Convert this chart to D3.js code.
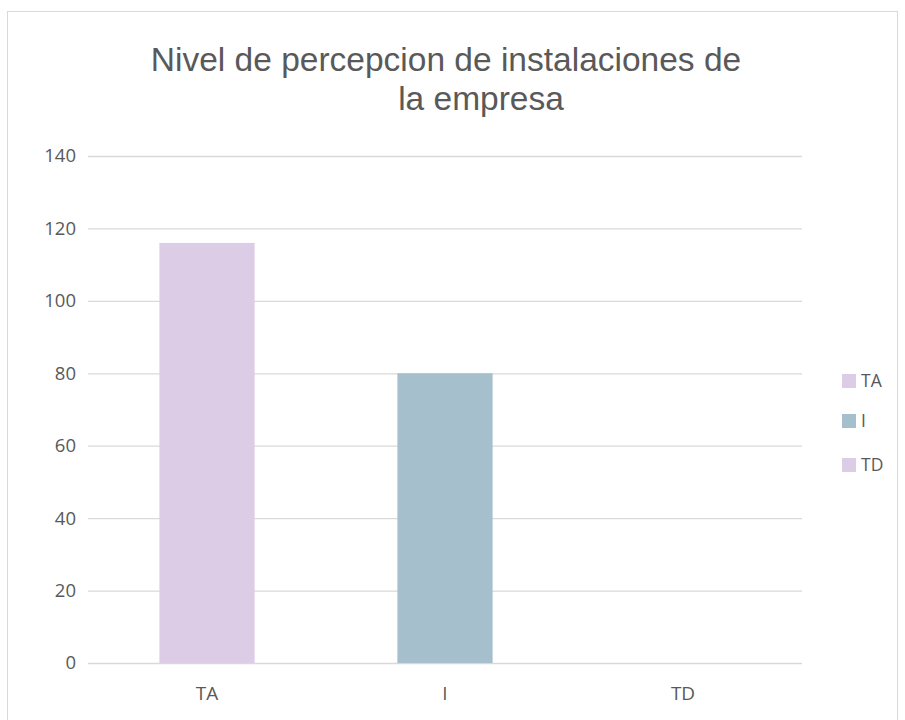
<!DOCTYPE html>
<html>
<head>
<meta charset="utf-8">
<script src="https://cdn.jsdelivr.net/npm/d3@7"></script>
<style>
  body { margin: 0; background: #fff; }
  text { font-family: "Open Sans", "Noto Sans", sans-serif; fill: #595959; }
  text.chart-title { font-family: "Liberation Sans", "Open Sans", sans-serif; }
</style>
</head>
<body>
<svg id="chart" width="905" height="720"></svg>
<script>
// Survey responses per perception level
const categories = ["TA", "I", "TD"];
const values = [116, 80, 0];
const barColors = ["#dccce6", "#a5bfcd", "#dccce6"];
const yTicks = [0, 20, 40, 60, 80, 100, 120, 140];
const titleLines = ["Nivel de percepcion de instalaciones de", "la empresa"];

const svg = d3.select("#chart");
const margin = { left: 88, right: 103, top: 156, bottom: 57 };
const W = 905, H = 720;

// chart frame
svg.append("rect")
  .attr("x", 7.5).attr("y", 11.5)
  .attr("width", 890).attr("height", 720)
  .attr("fill", "#fff").attr("stroke", "#d9d9d9").attr("stroke-width", 1);

const x = d3.scaleBand()
  .domain(categories)
  .range([margin.left, W - margin.right])
  .paddingInner(0.6).paddingOuter(0.3);

const y = d3.scaleLinear()
  .domain([0, 140])
  .range([H - margin.bottom, margin.top]);

// gridlines
const yAxis = d3.axisLeft(y).tickValues(yTicks).tickSize(-(W - margin.right - margin.left)).tickPadding(12);
const gy = svg.append("g").attr("transform", `translate(${margin.left},0)`).call(yAxis);
gy.select(".domain").remove();
gy.selectAll(".tick line").attr("stroke", "#d9d9d9").attr("stroke-width", 1.3);
gy.selectAll(".tick text").style("font-size", "18.5px").attr("fill", "#595959");

// bars
svg.append("g").selectAll("rect")
  .data(categories)
  .join("rect")
  .attr("x", d => x(d))
  .attr("width", x.bandwidth())
  .attr("y", (d, i) => y(values[i]))
  .attr("height", (d, i) => y(0) - y(values[i]))
  .attr("fill", (d, i) => barColors[i]);

// category axis
const xAxis = d3.axisBottom(x).tickSize(0).tickPadding(24);
const gx = svg.append("g").attr("transform", `translate(0,${y(0)})`).call(xAxis);
gx.select(".domain").remove();
gx.selectAll(".tick text").style("font-size", "19px").attr("fill", "#595959");

// title, wrapped over two lines
const title = svg.append("text")
  .attr("class", "chart-title")
  .attr("text-anchor", "middle").style("font-size", "33.5px");
title.append("tspan").attr("x", 446).attr("y", 71).text(titleLines[0]);
title.append("tspan").attr("x", 481).attr("y", 110).text(titleLines[1]);

// legend
const legendY = [381, 421, 465];
const lg = svg.append("g").selectAll("g")
  .data(categories)
  .join("g")
  .attr("transform", (d, i) => `translate(842,${legendY[i]})`);
lg.append("rect").attr("x", 0).attr("y", -7).attr("width", 14).attr("height", 14)
  .attr("fill", (d, i) => barColors[i]);
lg.append("text").attr("x", 19).attr("y", 0).attr("dy", "0.35em")
  .style("font-size", "17.5px").text(d => d);
</script>
</body>
</html>
